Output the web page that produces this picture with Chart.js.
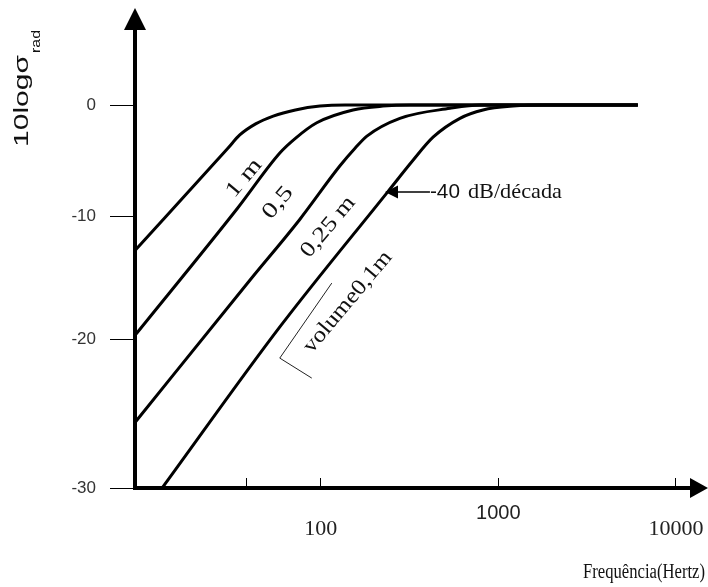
<!DOCTYPE html>
<html>
<head>
<meta charset="utf-8">
<title>10logσrad x Frequência</title>
<script src="https://cdn.jsdelivr.net/npm/chart.js@4.4.1/dist/chart.umd.min.js"></script>
<style>
  html, body { margin: 0; padding: 0; background: #fff; }
</style>
</head>
<body>
<canvas id="radChart" width="708" height="587"></canvas>
<script>
// Curves: frequency (Hz) and 10log(sigma_rad) (dB)
const freq1m = [9, 30, 35, 43, 54, 72, 99, 137, 6100];
const level1m = [-12.8, -3.9, -2.7, -1.7, -1.0, -0.45, -0.1, 0, 0];

const freq05 = [9, 34, 59, 72, 95, 152, 224, 318, 6100];
const level05 = [-19.7, -9.3, -4.3, -3.0, -1.6, -0.45, -0.1, 0, 0];

const freq025 = [9, 40, 76, 128, 156, 182, 279, 534, 790, 6100];
const level025 = [-25.6, -15.2, -10.3, -5.5, -3.9, -2.8, -1.2, -0.3, 0, 0];

const freq01 = [12.8, 59, 239, 330, 429, 608, 820, 1210, 1830, 6100];
const level01 = [-30, -19.0, -7.8, -5.0, -2.9, -1.2, -0.45, -0.1, 0, 0];

const curveNames = ['1 m', '0,5', '0,25 m', 'volume0,1m'];

const xTicks = [38, 100, 1000, 10000];
const xTickLabels = ['', '100', '1000', '10000'];
const yTicks = [-30, -20, -10, 0];

const SANS = '"Liberation Sans", Arial, sans-serif';
const SERIF = '"Liberation Serif", "Times New Roman", serif';

// The drawing has uneven spacing between its dB ticks, so the y scale
// maps values piecewise (fractions of the plot height from the bottom)
const yBreakValues = [-30, -20, -10, 0, 7];
const yBreakPos = [0, 0.3232, 0.59, 0.8308, 1];

function toFraction(v) {
    let i = 0;
    while (i < yBreakValues.length - 2 && v > yBreakValues[i + 1]) i++;
    const t = (v - yBreakValues[i]) / (yBreakValues[i + 1] - yBreakValues[i]);
    return yBreakPos[i] + t * (yBreakPos[i + 1] - yBreakPos[i]);
}

function fromFraction(f) {
    let i = 0;
    while (i < yBreakPos.length - 2 && f > yBreakPos[i + 1]) i++;
    const t = (f - yBreakPos[i]) / (yBreakPos[i + 1] - yBreakPos[i]);
    return yBreakValues[i] + t * (yBreakValues[i + 1] - yBreakValues[i]);
}

class StretchedScale extends Chart.LinearScale {
    getPixelForValue(value) {
        return this.bottom - toFraction(value) * (this.bottom - this.top);
    }
    getValueForPixel(pixel) {
        return fromFraction((this.bottom - pixel) / (this.bottom - this.top));
    }
}
StretchedScale.id = 'stretched';
Chart.register(StretchedScale);

function toPoints(xs, ys) {
    return xs.map((f, i) => ({ x: f, y: ys[i] }));
}

// Text scaled along its own direction to the width it has in the figure
function fitText(ctx, text, cx, cy, width, angle, font, align, baseline) {
    ctx.save();
    ctx.translate(cx, cy);
    ctx.rotate(angle);
    ctx.font = font;
    const w = ctx.measureText(text).width;
    ctx.scale(width / w, 1);
    ctx.textAlign = align || 'center';
    ctx.textBaseline = baseline || 'middle';
    ctx.fillStyle = '#111';
    ctx.fillText(text, 0, 0);
    ctx.restore();
}

const slant = -50 * Math.PI / 180;

const figureNotes = {
    id: 'figureNotes',
    afterDraw(chart) {
        const { ctx, chartArea } = chart;
        const xs = chart.scales.x, ys = chart.scales.y;
        const px = v => xs.getPixelForValue(v);
        const py = v => ys.getPixelForValue(v);

        ctx.save();
        ctx.fillStyle = '#000';
        // axis arrows
        ctx.beginPath();
        ctx.moveTo(chartArea.left, chartArea.top - 19);
        ctx.lineTo(chartArea.left - 11, chartArea.top + 3);
        ctx.lineTo(chartArea.left + 11, chartArea.top + 3);
        ctx.closePath();
        ctx.fill();
        ctx.beginPath();
        ctx.moveTo(chartArea.right + 18, chartArea.bottom);
        ctx.lineTo(chartArea.right, chartArea.bottom - 10);
        ctx.lineTo(chartArea.right, chartArea.bottom + 10);
        ctx.closePath();
        ctx.fill();

        // curve labels
        const serif22 = '22px ' + SERIF;
        fitText(ctx, curveNames[0], px(37), py(-6.6), 44, slant, serif22);
        fitText(ctx, curveNames[1], px(57.4), py(-8.8), 36, slant, serif22);
        fitText(ctx, curveNames[2], px(110), py(-10.9), 73, slant, serif22);
        const vx = px(142), vy = py(-17.0);
        fitText(ctx, curveNames[3], vx, vy, 126, slant, serif22);

        // root sign drawn in front of "volume"
        ctx.strokeStyle = '#222';
        ctx.lineWidth = 1;
        ctx.beginPath();
        ctx.moveTo(vx - 36, vy + 76);
        ctx.lineTo(vx - 68, vy + 56);
        ctx.lineTo(vx - 16, vy - 19);
        ctx.stroke();

        // -40 dB/decade pointer
        const ay = py(-7.84);
        const tip = px(230);
        ctx.beginPath();
        ctx.moveTo(tip, ay);
        ctx.lineTo(tip + 13, ay - 6.5);
        ctx.lineTo(tip + 13, ay + 6.5);
        ctx.closePath();
        ctx.fill();
        ctx.lineWidth = 1.5;
        ctx.strokeStyle = '#000';
        ctx.beginPath();
        ctx.moveTo(tip + 12, ay);
        ctx.lineTo(px(412), ay);
        ctx.stroke();
        const tx = px(412);
        fitText(ctx, '-40', tx, ay, 30, 0, '21px ' + SANS, 'left');
        fitText(ctx, 'dB/década', tx + 38, ay, 94, 0, '21px ' + SERIF, 'left');

        // axis titles
        fitText(ctx, '10logσ', 28, 147, 92, -Math.PI / 2, '21px ' + SANS, 'left', 'alphabetic');
        fitText(ctx, 'rad', 28 + 12, 147 - 94, 23, -Math.PI / 2, '12px ' + SANS, 'left', 'alphabetic');
        fitText(ctx, 'Frequência(Hertz)', 705, 573, 122, 0, '20px ' + SERIF, 'right');
        ctx.restore();
    }
};

const lineStyle = {
    borderColor: '#000',
    borderWidth: 3,
    pointRadius: 0,
    cubicInterpolationMode: 'monotone',
    fill: false
};

function fixBox(scale, size) {
    if (scale.isHorizontal()) scale.height = size;
    else scale.width = size;
    scale.paddingLeft = 0;
    scale.paddingRight = 0;
    scale.paddingTop = 0;
    scale.paddingBottom = 0;
}

new Chart(document.getElementById('radChart'), {
    type: 'line',
    data: {
        datasets: [
            { label: curveNames[0], data: toPoints(freq1m, level1m), ...lineStyle },
            { label: curveNames[1], data: toPoints(freq05, level05), ...lineStyle },
            { label: curveNames[2], data: toPoints(freq025, level025), ...lineStyle },
            { label: curveNames[3], data: toPoints(freq01, level01), ...lineStyle }
        ]
    },
    options: {
        responsive: false,
        animation: false,
        devicePixelRatio: 1,
        layout: { padding: { left: 70, right: 18, top: 27, bottom: 39 } },
        plugins: {
            legend: { display: false },
            tooltip: { enabled: false }
        },
        scales: {
            x: {
                type: 'logarithmic',
                min: 9,
                max: 12000,
                afterBuildTicks: scale => { scale.ticks = xTicks.map(v => ({ value: v })); },
                afterFit: scale => fixBox(scale, 60),
                grid: {
                    drawOnChartArea: false,
                    tickLength: -10,
                    color: '#000',
                    lineWidth: 1
                },
                border: { display: true, color: '#000', width: 4 },
                ticks: {
                    autoSkip: false,
                    maxRotation: 0,
                    padding: 23,
                    color: '#222',
                    font: ctx => (ctx.tick && ctx.tick.value === 1000)
                        ? { family: SANS, size: 20 }
                        : { family: SERIF, size: 22, lineHeight: 0.85 },
                    callback: (value, index) => {
                        const label = xTickLabels[index];
                        return label === '1000' || label === '' ? label : ['', label];
                    }
                }
            },
            y: {
                type: 'stretched',
                min: -30,
                max: 7,
                afterBuildTicks: scale => { scale.ticks = yTicks.map(v => ({ value: v })); },
                afterFit: scale => fixBox(scale, 65),
                grid: {
                    drawOnChartArea: false,
                    tickLength: 25,
                    color: '#000',
                    lineWidth: 1
                },
                border: { display: true, color: '#000', width: 4 },
                ticks: {
                    padding: 14,
                    color: '#333',
                    font: { family: SANS, size: 17 },
                    callback: value => String(value)
                }
            }
        }
    },
    plugins: [figureNotes]
});
</script>
</body>
</html>
